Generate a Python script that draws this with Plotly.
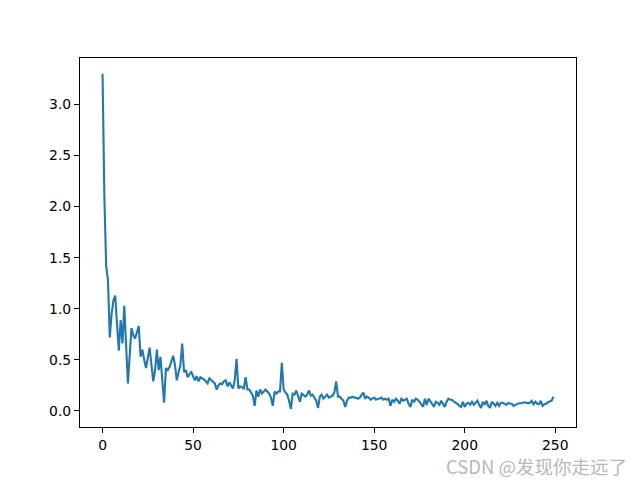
import plotly.graph_objects as go

steps = list(range(250))
loss = [
    3.30, 2.10, 1.42, 1.28, 0.72, 0.95, 1.08, 1.13, 0.85, 0.59,
    0.89, 0.66, 1.03, 0.60, 0.27, 0.55, 0.81, 0.74, 0.71, 0.77,
    0.83, 0.53, 0.60, 0.50, 0.42, 0.52, 0.62, 0.45, 0.29, 0.40,
    0.60, 0.40, 0.53, 0.30, 0.08, 0.42, 0.40, 0.43, 0.48, 0.54,
    0.45, 0.30, 0.38, 0.45, 0.66, 0.38, 0.40, 0.33, 0.36, 0.38,
    0.34, 0.30, 0.34, 0.29, 0.33, 0.32, 0.31, 0.29, 0.27, 0.32,
    0.30, 0.28, 0.27, 0.21, 0.25, 0.27, 0.26, 0.29, 0.30, 0.24,
    0.28, 0.25, 0.22, 0.30, 0.51, 0.22, 0.24, 0.23, 0.22, 0.33,
    0.21, 0.21, 0.18, 0.15, 0.05, 0.20, 0.14, 0.21, 0.17, 0.19,
    0.21, 0.19, 0.17, 0.13, 0.05, 0.19, 0.17, 0.19, 0.19, 0.47,
    0.21, 0.18, 0.16, 0.10, 0.02, 0.17, 0.16, 0.20, 0.15, 0.09,
    0.17, 0.15, 0.14, 0.16, 0.20, 0.15, 0.16, 0.13, 0.10, 0.03,
    0.14, 0.16, 0.12, 0.14, 0.16, 0.13, 0.14, 0.15, 0.18, 0.29,
    0.14, 0.14, 0.12, 0.10, 0.04, 0.10, 0.13, 0.13, 0.14, 0.13,
    0.13, 0.12, 0.13, 0.15, 0.18, 0.12, 0.14, 0.13, 0.11, 0.12,
    0.13, 0.11, 0.12, 0.12, 0.13, 0.11, 0.12, 0.11, 0.12, 0.05,
    0.11, 0.09, 0.12, 0.10, 0.07, 0.12, 0.10, 0.11, 0.12, 0.07,
    0.04, 0.11, 0.09, 0.12, 0.11, 0.09, 0.07, 0.04, 0.12, 0.06,
    0.12, 0.10, 0.07, 0.04, 0.09, 0.08, 0.06, 0.10, 0.07, 0.04,
    0.09, 0.12, 0.11, 0.11, 0.09, 0.08, 0.07, 0.05, 0.04, 0.09,
    0.04, 0.07, 0.08, 0.06, 0.09, 0.06, 0.08, 0.10, 0.06, 0.03,
    0.09, 0.06, 0.10, 0.05, 0.03, 0.09, 0.07, 0.05, 0.08, 0.05,
    0.08, 0.08, 0.07, 0.06, 0.08, 0.07, 0.07, 0.05, 0.06, 0.07,
    0.075, 0.075, 0.08, 0.085, 0.08, 0.075, 0.08, 0.10, 0.065, 0.09,
    0.07, 0.065, 0.10, 0.05, 0.065, 0.07, 0.085, 0.09, 0.10, 0.14,
]
x_ticks = [0, 50, 100, 150, 200, 250]
y_ticks = [0.0, 0.5, 1.0, 1.5, 2.0, 2.5, 3.0]
watermark = "CSDN @发现你走远了"

fig = go.Figure()
fig.add_trace(go.Scatter(x=steps, y=loss, mode="lines",
                         line=dict(color="#1f77b4", width=2.1),
                         showlegend=False, hoverinfo="skip"))

axis_common = dict(showgrid=False, zeroline=False, showline=True, mirror=True,
                   linecolor="black", linewidth=1.1, ticks="outside", ticklen=5,
                   tickwidth=1.1, tickcolor="black", automargin=False,
                   tickfont=dict(family="DejaVu Sans", size=13.9, color="black"))

fig.update_xaxes(range=[-12.45, 261.45], tickvals=x_ticks,
                 ticktext=[str(v) for v in x_ticks], **axis_common)
fig.update_yaxes(range=[-0.157, 3.454], tickvals=y_ticks,
                 ticktext=[f"{v:.1f}" for v in y_ticks], **axis_common)

fig.add_annotation(text=watermark, xref="paper", yref="paper",
                   x=1.105, y=-0.068, xanchor="right", yanchor="top",
                   showarrow=False, borderpad=0,
                   font=dict(family="Noto Sans CJK SC", size=18.5, color="#b8b8b8"))

fig.update_layout(width=632, height=472,
                  margin=dict(l=72, r=64, t=50, b=53),
                  plot_bgcolor="white", paper_bgcolor="white")

fig.write_html("out.html")
